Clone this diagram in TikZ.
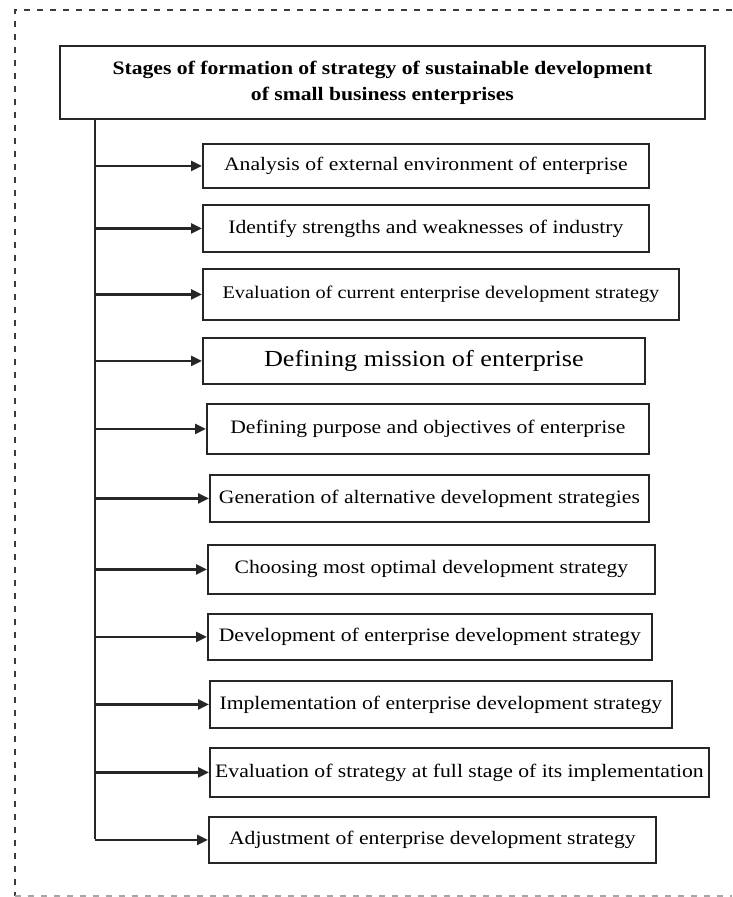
\documentclass[tikz,border=0pt]{standalone}
\usepackage{fontspec}
\usetikzlibrary{arrows.meta}
\newfontfamily\stagefont[FakeStretch=1.14]{Liberation Serif}
\definecolor{framegray}{RGB}{60,60,60}
\tikzset{
  frame-line/.style={draw=framegray, line width=1.6pt, dash pattern=on 6pt off 7pt},
  box/.style={draw=black!85, line width=1.8pt, inner sep=0pt, anchor=north west, align=center},
  title-box/.style={box, font=\stagefont\bfseries\fontsize{19}{26}\selectfont},
  stage/.style={box, font=\stagefont\fontsize{19}{24}\selectfont},
  stage-small/.style={box, font=\stagefont\fontsize{17.8}{22}\selectfont},
  stage-big/.style={box, font=\stagefont\fontsize{23}{28}\selectfont},
  trunk-line/.style={draw=black!85, line width=2pt},
  stage-arrow/.style={trunk-line, line width=2.4pt, -{Triangle[length=11pt,width=10pt]}}
}

\begin{document}
\begin{tikzpicture}[x=1pt, y=-1pt]
  \useasboundingbox (0,0) rectangle (732,897);
  % dashed frame, open on the right
  \draw[frame-line] (732,10) -- (15,10) -- (15,896);
  \draw[frame-line, draw=black!35] (15,896) -- (732,896);
  % title
  \node[title-box, minimum width=645pt, minimum height=73pt] (title) at (59,45)
    {Stages of formation of strategy of sustainable development\\of small business enterprises};
  % stages
  \foreach \n/\xl/\xr/\yt/\yb/\sty/\txt in {
    1/202/648/143/187/stage/{Analysis of external environment of enterprise},
    2/202/648/204/251/stage/{Identify strengths and weaknesses of industry},
    3/202/678/268/319/stage-small/{Evaluation of current enterprise development strategy},
    4/202/644/337/383/stage-big/{Defining mission of enterprise},
    5/206/648/403/453/stage/{Defining purpose and objectives of enterprise},
    6/209/648/474/521/stage/{Generation of alternative development strategies},
    7/207/654/544/593/stage/{Choosing most optimal development strategy},
    8/207/651/613/659/stage/{Development of enterprise development strategy},
    9/209/671/680/727/stage/{Implementation of enterprise development strategy},
    10/209/708/747/796/stage/{Evaluation of strategy at full stage of its implementation},
    11/208/655/816/862/stage/{Adjustment of enterprise development strategy}}{
    \node[\sty, minimum width={(\xr-\xl)*1pt}, minimum height={(\yb-\yt)*1pt}] (s\n) at (\xl,\yt) {\txt};
  }
  % trunk and arrows
  \coordinate (trunk) at (95,839);
  \draw[trunk-line] (title.south -| trunk) -- (trunk);
  \foreach \n in {1,...,11}{
    \draw[stage-arrow] (trunk |- s\n.west) -- (s\n.west);
  }
\end{tikzpicture}
\end{document}
